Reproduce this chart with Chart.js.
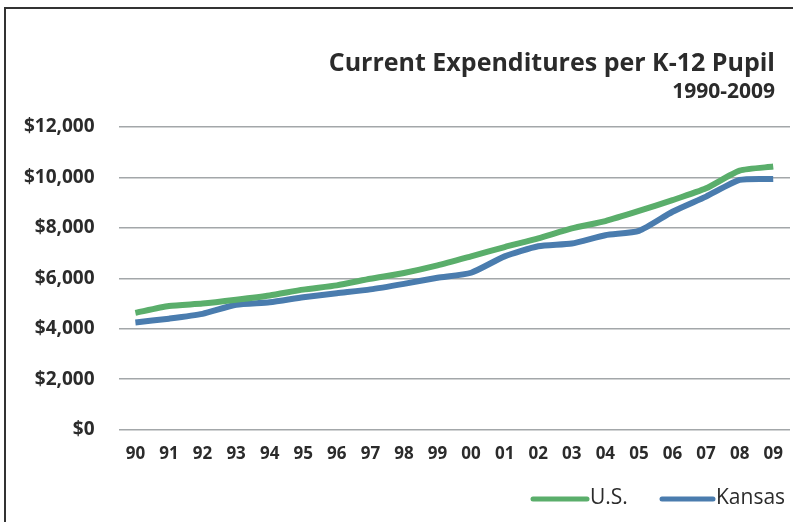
<!DOCTYPE html>
<html><head><meta charset="utf-8">
<script src="https://cdn.jsdelivr.net/npm/chart.js@4"></script>
<style>
html,body{margin:0;padding:0;background:#fff;}
#wrap{position:absolute;left:0;top:0;width:793px;height:522px;}
#frame{position:absolute;left:4px;top:7px;width:800px;height:600px;border-left:2px solid #333;border-top:2px solid #333;}
canvas{position:absolute;left:0;top:0;}
</style></head>
<body><div id="wrap"><div id="frame"></div><canvas id="c" width="793" height="522"></canvas></div>
<script>
const categories = ["90","91","92","93","94","95","96","97","98","99","00","01","02","03","04","05","06","07","08","09"];
const usValues = [4630,4900,5000,5150,5320,5550,5720,5980,6210,6510,6870,7240,7580,7980,8270,8670,9100,9570,10270,10430];
const kansasValues = [4250,4400,4590,4950,5050,5250,5410,5560,5780,6020,6220,6870,7270,7380,7710,7880,8640,9240,9900,9940];
const yTicks = [0,2000,4000,6000,8000,10000,12000];
const titleText = 'Current Expenditures per K-12 Pupil';
const subtitleText = '1990-2009';
const FONT = "'Open Sans', Lato, sans-serif";
const legendSlots = [{x1: 533, x2: 587}, {x1: 662, x2: 713}];
const headerPlugin = {
  id: 'header',
  afterDraw(chart) {
    const ctx = chart.ctx;
    ctx.save();
    ctx.fillStyle = '#2b2b2b';
    ctx.textAlign = 'right';
    ctx.textBaseline = 'middle';
    ctx.font = 'bold 25px ' + FONT;
    ctx.fillText(titleText, 775, 64);
    ctx.font = 'bold 21px ' + FONT;
    ctx.fillText(subtitleText, 775, 92);
    // legend
    ctx.textAlign = 'left';
    ctx.font = '21px ' + FONT;
    chart.data.datasets.forEach((ds, i) => {
      const s = legendSlots[i];
      ctx.strokeStyle = ds.borderColor;
      ctx.lineWidth = 5;
      ctx.lineCap = 'round';
      ctx.beginPath();
      ctx.moveTo(s.x1, 499);
      ctx.lineTo(s.x2, 499);
      ctx.stroke();
      ctx.fillStyle = '#2b2b2b';
      ctx.fillText(ds.label, s.x2 + 3, 498);
    });
    ctx.restore();
  }
};
new Chart(document.getElementById('c'), {
  type: 'line',
  data: {
    labels: categories,
    datasets: [
      {label: 'U.S.', data: usValues, borderColor: '#5aae6b', backgroundColor: '#5aae6b', borderWidth: 6, pointRadius: 0, tension: 0.2},
      {label: 'Kansas', data: kansasValues, borderColor: '#4a7cae', backgroundColor: '#4a7cae', borderWidth: 6, pointRadius: 0, tension: 0.2}
    ]
  },
  plugins: [headerPlugin],
  options: {
    responsive: false, animation: false,
    layout: {padding: {left: 0, right: 3, top: 127, bottom: 52}},
    plugins: {
      title: {display: false},
      legend: {display: false},
      tooltip: {enabled: false}
    },
    scales: {
      x: {offset: true, grid: {display: false}, border: {display: false},
        ticks: {color: '#2b2b2b', font: {family: FONT, size: 17, weight: 'bold'}, padding: 6}},
      y: {min: 0, max: 12000, afterBuildTicks: (s) => { s.ticks = yTicks.map(v => ({value: v})); },
        grid: {color: '#a3a7a9', lineWidth: 1.5, drawTicks: false}, border: {display: false},
        ticks: {color: '#2b2b2b', padding: 24, font: {family: FONT, size: 19, weight: 'bold'},
          callback: (v) => '$' + v.toLocaleString('en-US')}}
    }
  }
});
</script></body></html>
